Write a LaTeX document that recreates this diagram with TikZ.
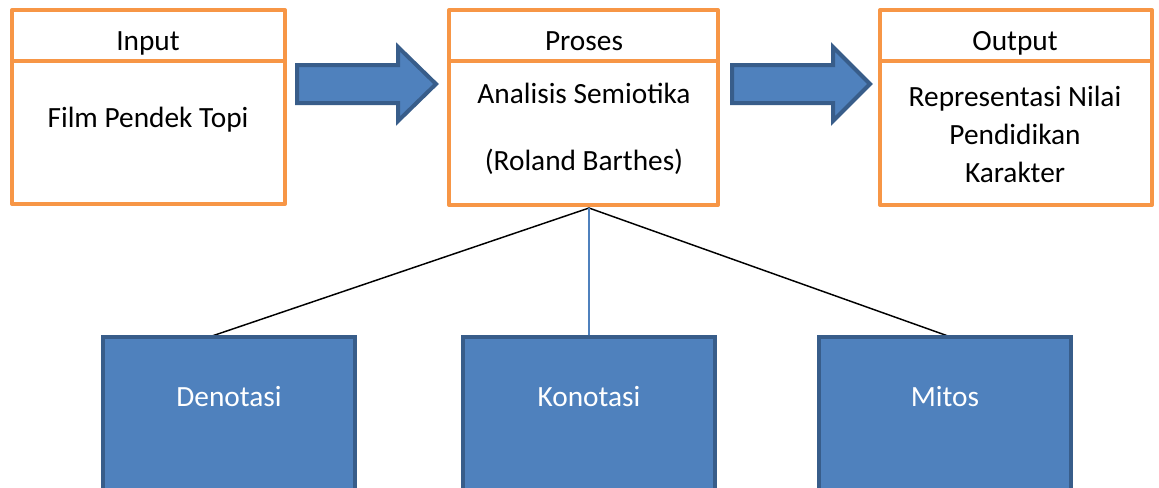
\documentclass[tikz,border=0pt]{standalone}
\usepackage{fontspec}
\setmainfont{Carlito}
\begin{document}
\begin{tikzpicture}[x=0.75pt,y=-0.75pt,
  bbox/.style={draw=bborder, line width=3pt, fill=bfill},
  harrow/.style={draw=bborder, line width=3pt, fill=bfill, line join=miter},
  lbl/.style={font=\fontsize{22}{28.5}\selectfont, align=center, inner sep=0pt},
  bl/.style={lbl, anchor=base},
  wlbl/.style={bl, text=white},
  link/.style={line width=1.1pt, black}]
\definecolor{obord}{HTML}{F79646}
\definecolor{bfill}{HTML}{4F81BD}
\definecolor{bborder}{HTML}{385D8A}
\tikzset{obox/.style={draw=obord, line width=3pt, fill=white, line join=round}}
\useasboundingbox (0,0) rectangle (1159,487);

% top boxes
\draw[obox] (12,10) rectangle (285,204);
\draw[obox] (12,61) -- (285,61);
\draw[obox] (449,10) rectangle (718,205);
\draw[obox] (449,61) -- (718,61);
\draw[obox] (880,10) rectangle (1152,205);
\draw[obox] (880,61) -- (1152,61);

\node[bl] (in) at (148,50) {Input};
\node[bl] (inb) at (148,127) {Film Pendek Topi};
\node[bl] (pr) at (584,50) {Proses};
\node[bl] (pr1) at (584,103) {Analisis Semiotika};
\node[bl] (pr2) at (584,170) {(Roland Barthes)};
\node[bl] (out) at (1015,50) {Output};
\node[lbl] (outb) at (1015,134) {Representasi Nilai\\Pendidikan\\Karakter};

\coordinate (top) at (589,208);

% block arrows
\draw[harrow] (297,65) -- (398,65) -- (398,47) -- (436,84) -- (398,121) -- (398,103) -- (297,103) -- cycle;
\draw[harrow] (732,65) -- (833,65) -- (833,47) -- (870,84) -- (833,121) -- (833,103) -- (732,103) -- cycle;

% links
\coordinate (dtop) at (212,336);
\coordinate (mtop) at (948,336);
\draw[link] (top) -- (dtop);
\draw[link] (top) -- (mtop);
\draw[bfill, line width=1.2pt] (top) -- (589,342);

% bottom boxes
\draw[bbox] (103,337) rectangle (355,490);
\draw[bbox] (463,337) rectangle (715,490);
\draw[bbox] (819,337) rectangle (1071,490);
\node[wlbl] (den) at (229,406) {Denotasi};
\node[wlbl] (kon) at (589,406) {Konotasi};
\node[wlbl] (mit) at (945,406) {Mitos};
\end{tikzpicture}
\end{document}
